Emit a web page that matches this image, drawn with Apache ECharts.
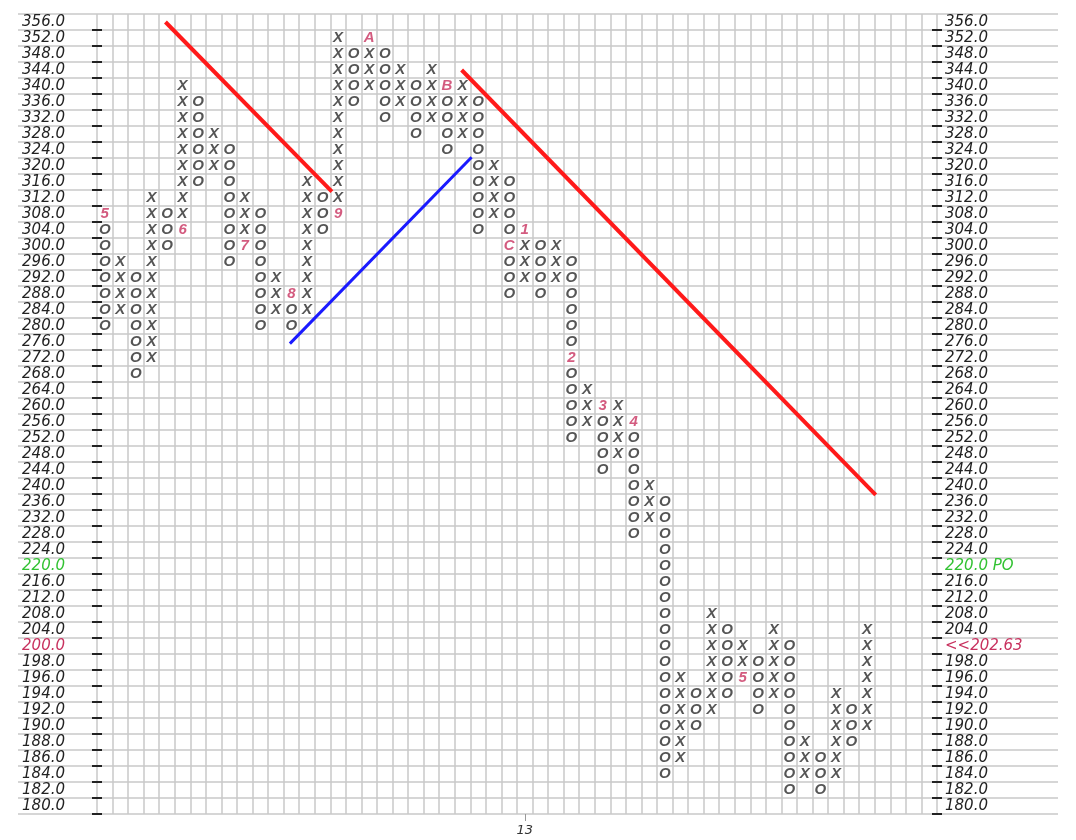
<!DOCTYPE html>
<html>
<head>
<meta charset="utf-8">
<script src="https://cdn.jsdelivr.net/npm/echarts@6/dist/echarts.min.js"></script>
<style>
  html, body { margin: 0; padding: 0; background: #fff; }
  #main { width: 1076px; height: 840px; }
</style>
</head>
<body>
<div id="main"></div>
<script>
// price rows of the grid (box 4 above 200, box 2 below)
var prices = [356, 352, 348, 344, 340, 336, 332, 328, 324, 320, 316, 312, 308, 304, 300,
  296, 292, 288, 284, 280, 276, 272, 268, 264, 260, 256, 252, 248, 244, 240, 236, 232,
  228, 224, 220, 216, 212, 208, 204, 200, 198, 196, 194, 192, 190, 188, 186, 184, 182, 180];
var leftLabels = prices.map(function (p) { return p.toFixed(1); });
var rightNotes = { '220.0': '220.0 PO', '200.0': '<<202.63' };

// columns of the point & figure chart
var colType = ['O','X','O','X','O','X','O','X','O','X','O','X','O','X','O','X','O','X',
  'O','X','O','X','O','X','O','X','O','X','O','X','O','X','O','X','O','X','O','X','O',
  'X','O','X','O','X','O','X','O','X','O','X'];
var colLow = [280, 284, 268, 272, 300, 304, 316, 320, 296, 300, 280, 284, 280, 284, 304,
  308, 336, 340, 332, 336, 328, 332, 324, 328, 304, 308, 288, 292, 288, 292, 252, 256,
  244, 248, 228, 232, 184, 186, 190, 192, 194, 196, 192, 194, 182, 184, 182, 184, 188, 190];
var colHigh = [308, 296, 292, 312, 308, 340, 336, 328, 324, 312, 308, 292, 288, 316, 312,
  352, 348, 352, 348, 344, 340, 344, 340, 340, 336, 320, 316, 304, 300, 300, 296, 264,
  260, 260, 256, 240, 236, 196, 194, 208, 204, 200, 198, 204, 200, 188, 186, 194, 192, 204];
var totalCols = 54;

// month markers (column, price, month)
var markCol = [0, 5, 9, 12, 15, 17, 22, 26, 27, 30, 32, 34, 41];
var markPrice = [308, 304, 300, 288, 308, 352, 340, 300, 304, 272, 260, 256, 196];
var markText = ['5', '6', '7', '8', '9', 'A', 'B', 'C', '1', '2', '3', '4', '5'];

// year label on the time axis
var yearCol = 27;
var yearText = '13';

// trend lines: [column position, price]
var redLine1 = [[4.4, 356], [15.1, 313.6]];
var blueLine = [[12.4, 275.6], [24.08, 322.2]];
var redLine2 = [[23.44, 344], [50.06, 237.8]];

function rowOf(p) {
  return (p >= 200 ? (356 - p) / 4 : 39 + (200 - p) / 2) + 0.5;
}

var markMap = {};
markCol.forEach(function (c, i) { markMap[c + '_' + markPrice[i]] = markText[i]; });

var boxes = [], months = [];
colType.forEach(function (t, c) {
  prices.forEach(function (p) {
    if (p < colLow[c] || p > colHigh[c]) return;
    var m = markMap[c + '_' + p];
    if (m) months.push([c + 0.5, rowOf(p), m]);
    else boxes.push([c + 0.5, rowOf(p), t]);
  });
});

function toLine(pts) {
  return pts.map(function (d) { return [d[0], rowOf(d[1])]; });
}

var colLabels = [];
for (var i = 0; i < totalCols; i++) colLabels.push(i === yearCol ? yearText : '');

var font = 'DejaVu Sans';
var markFont = 'Liberation Sans';
var gridColor = '#c8c8c8';
var crimson = '#c8325f';
var green = '#33c233';

function labelColor(v) {
  if (v.indexOf('220.0') === 0) return green;
  if (v === '200.0' || v.indexOf('<<') === 0) return crimson;
  return '#222';
}
function innerTick(idx) { return idx > 0; }

function priceAxis(pos, labels, inside, margin) {
  return {
    gridIndex: 0, type: 'category', inverse: true, data: labels, position: pos,
    axisLine: { show: false, onZero: false },
    axisTick: { show: true, inside: inside, length: 5, interval: innerTick,
      lineStyle: { color: '#222', width: 2 } },
    axisLabel: { show: !inside, interval: 0, margin: margin, fontSize: 15,
      fontStyle: 'italic', fontFamily: font, color: labelColor },
    splitLine: { show: false }
  };
}

var rightLabels = leftLabels.map(function (v) { return rightNotes[v] || v; });

var chart = echarts.init(document.getElementById('main'));
chart.setOption({
  animation: false,
  backgroundColor: '#fff',
  grid: [
    { left: 97, right: 139, top: 14, bottom: 26 },
    { left: 18, right: 18, top: 14, bottom: 26 }
  ],
  xAxis: [
    { gridIndex: 0, type: 'value', min: 0, max: totalCols, interval: 1, position: 'top',
      axisLine: { show: false, onZero: false }, axisTick: { show: false }, axisLabel: { show: false },
      splitLine: { show: true, lineStyle: { color: gridColor, width: 1.5 } } },
    { gridIndex: 0, type: 'category', data: colLabels, position: 'bottom',
      axisLine: { show: false, onZero: false },
      axisTick: { show: true, alignWithLabel: true, length: 7,
        interval: function (idx) { return idx === yearCol; },
        lineStyle: { color: '#999' } },
      axisLabel: { interval: 0, margin: 10, color: '#333', fontSize: 13,
        fontStyle: 'italic', fontFamily: font },
      splitLine: { show: false } },
    { gridIndex: 1, type: 'value', min: 0, max: 1, show: false }
  ],
  yAxis: [
    priceAxis('left', leftLabels, false, 32),
    priceAxis('right', rightLabels, false, 8),
    priceAxis('left', leftLabels, true, 0),
    priceAxis('right', rightLabels, true, 0),
    { gridIndex: 0, type: 'value', min: 0, max: prices.length, inverse: true, show: false },
    { gridIndex: 1, type: 'value', min: 0, max: prices.length, interval: 1, inverse: true,
      axisLine: { show: false, onZero: false }, axisTick: { show: false }, axisLabel: { show: false },
      splitLine: { show: true, lineStyle: { color: gridColor, width: 1.5 } } }
  ],
  series: [
    { type: 'scatter', xAxisIndex: 0, yAxisIndex: 4, data: boxes, symbolSize: 1,
      itemStyle: { color: 'rgba(0,0,0,0)' }, silent: true, z: 3,
      label: { show: true, position: 'inside', formatter: function (p) { return p.value[2]; },
        color: '#2a2a2a', fontSize: 15, fontWeight: 'bold', fontStyle: 'italic', fontFamily: markFont } },
    { type: 'scatter', xAxisIndex: 0, yAxisIndex: 4, data: months, symbolSize: 1,
      itemStyle: { color: 'rgba(0,0,0,0)' }, silent: true, z: 3,
      label: { show: true, position: 'inside', formatter: function (p) { return p.value[2]; },
        color: crimson, fontSize: 15, fontWeight: 'bold', fontStyle: 'italic', fontFamily: markFont } },
    { type: 'line', xAxisIndex: 0, yAxisIndex: 4, data: toLine(redLine1), symbol: 'none',
      lineStyle: { color: '#ff1a1a', width: 4 }, z: 4 },
    { type: 'line', xAxisIndex: 0, yAxisIndex: 4, data: toLine(blueLine), symbol: 'none',
      lineStyle: { color: '#1a1aff', width: 3 }, z: 4 },
    { type: 'line', xAxisIndex: 0, yAxisIndex: 4, data: toLine(redLine2), symbol: 'none',
      lineStyle: { color: '#ff1a1a', width: 4 }, z: 4 }
  ]
});
</script>
</body>
</html>
